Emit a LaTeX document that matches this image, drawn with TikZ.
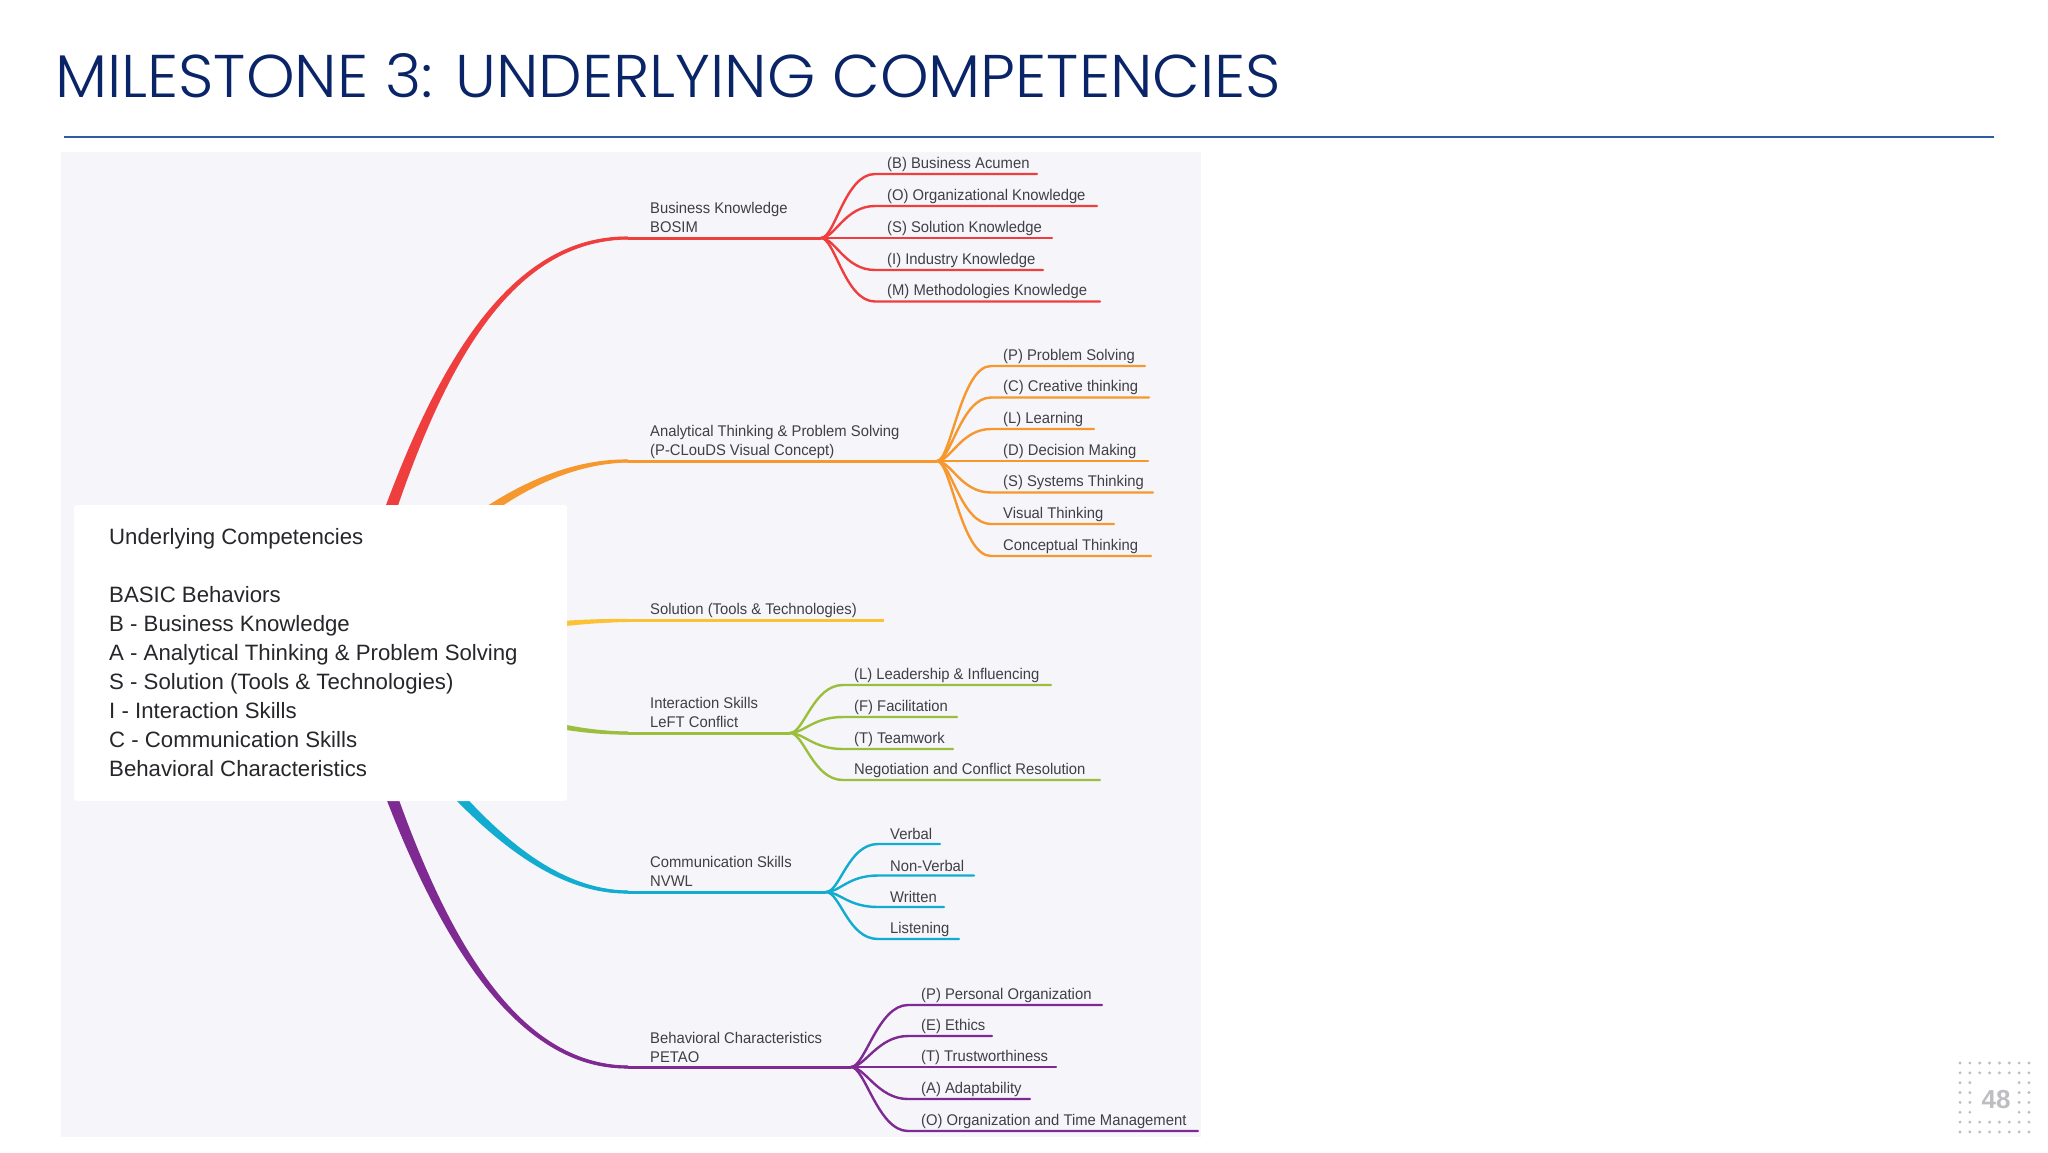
\documentclass[tikz,border=0pt]{standalone}
\usepackage{fontspec}
\usepackage{graphicx}
\setmainfont{Liberation Sans}
\newfontfamily\titlefont[UprightFont=* Light]{Poppins}
\newfontfamily\mapfont[FakeStretch=0.955]{Liberation Sans}
\usetikzlibrary{calc}
\definecolor{navy}{HTML}{0A2468}
\definecolor{rulecol}{HTML}{2F5C9E}
\definecolor{panel}{HTML}{F5F5FA}
\definecolor{ink}{HTML}{3F3F46}
\definecolor{boxink}{HTML}{26262B}
\definecolor{cR}{HTML}{EF3E3E}
\definecolor{cO}{HTML}{F6982E}
\definecolor{cY}{HTML}{FBC233}
\definecolor{cG}{HTML}{9BBF3C}
\definecolor{cB}{HTML}{12ACD0}
\definecolor{cP}{HTML}{7E2A92}
\definecolor{dotc}{HTML}{BDBDC2}
\tikzset{
  leaftext/.style={anchor=west,inner sep=0pt,text=ink,font=\mapfont\fontsize{15.5}{19}\selectfont},
  branchtext/.style={anchor=west,inner sep=0pt,text=ink,align=left,font=\mapfont\fontsize{15.5}{19}\selectfont},
  twig/.style={line width=2.4pt,line cap=round},
  stem/.style={line width=3pt},
  limb/.style={line width=2.6pt},
  pagedot/.style={circle,fill=dotc,inner sep=0pt,minimum size=3.2pt},
}
% tapered main branch: colour, c1x,c1y,c2x,c2y,endx,endy, starting at the root point
\newcommand{\taper}[7]{%
  \pgfmathsetmacro{\angl}{atan2(#3-653,#2-345)}%
  \pgfmathsetmacro{\nrx}{-sin(\angl)}%
  \pgfmathsetmacro{\nry}{cos(\angl)}%
  \fill[#1] (345+\nrx*7.5,653+\nry*7.5) .. controls (#2+\nrx*5.5,#3+\nry*5.5) and (#4,#5+2.8) .. (#6,#7+1.5)
    -- (#6,#7-1.5) .. controls (#4,#5-2.8) and (#2-\nrx*5.5,#3-\nry*5.5) .. (345-\nrx*7.5,653-\nry*7.5) -- cycle;
  \draw[limb,#1] (rootpt) .. controls (#2,#3) and (#4,#5) .. (#6,#7);
}
% leaf: name, hub, colour, curve end x, text x, line y, line end x, text
\newcommand{\leaf}[8]{%
  \coordinate (#1s) at (#4,#6);
  \coordinate (#1e) at (#7,#6);
  \draw[twig,#3] (#2) .. controls +(14,0) and +(-30,0) .. (#1s) -- (#1e);
  \node[leaftext] (#1) at (#5,#6-10) {#8};
}
\begin{document}
\begin{tikzpicture}[x=1pt,y=-1pt]
\useasboundingbox (0,0) rectangle (2048,1152);
\fill[white] (0,0) rectangle (2048,1152);
% title
\node[anchor=base west,inner sep=0pt,text=navy] (title) at (55,97)
  {\resizebox{1225pt}{44pt}{\titlefont MILESTONE 3: UNDERLYING COMPETENCIES}};
\coordinate (ruleL) at (64,137);
\coordinate (ruleR) at (1994,137);
\draw[rulecol,line width=2pt] (ruleL) -- (ruleR);
% panel
\fill[panel] (61,152) rectangle (1201,1137);
\coordinate (rootpt) at (345,653);
% branch ends
\coordinate (bR) at (628,238);
\coordinate (bO) at (628,461);
\coordinate (bY) at (628,620.5);
\coordinate (bG) at (628,733);
\coordinate (bB) at (628,892);
\coordinate (bP) at (628,1067);
\coordinate (hubR) at (821,238);
\coordinate (hubO) at (937,461);
\coordinate (endY) at (884,620.5);
\coordinate (hubG) at (790,733);
\coordinate (hubB) at (826,892);
\coordinate (hubP) at (851,1067);
% limbs
\taper{cR}{407}{440}{480}{238}{628}{238}
\taper{cO}{462}{500}{560}{461}{628}{461}
\taper{cY}{450}{640}{540}{620.5}{628}{620.5}
\taper{cG}{450}{690}{530}{733}{628}{733}
\taper{cB}{443}{790}{530}{892}{628}{892}
\taper{cP}{408}{870}{490}{1067}{628}{1067}
% stems
\draw[stem,cR] (bR) -- (hubR);
\draw[stem,cO] (bO) -- (hubO);
\draw[stem,cY] (bY) -- (endY);
\draw[stem,cG] (bG) -- (hubG);
\draw[stem,cB] (bB) -- (hubB);
\draw[stem,cP] (bP) -- (hubP);
% branch labels
\node[branchtext] (lR) at (650,217.5) {Business Knowledge\\[0pt]BOSIM};
\node[branchtext] (lO) at (650,441.5) {Analytical Thinking \& Problem Solving\\[0pt](P-CLouDS Visual Concept)};
\node[branchtext] (lY) at (650,610) {Solution (Tools \& Technologies)};
\node[branchtext] (lG) at (650,712) {Interaction Skills\\[0pt]LeFT Conflict};
\node[branchtext] (lB) at (650,871.5) {Communication Skills\\[0pt]NVWL};
\node[branchtext] (lP) at (650,1047.5) {Behavioral Characteristics\\[0pt]PETAO};
% red leaves
\leaf{r1}{hubR}{cR}{875}{887}{174}{1037}{(B) Business Acumen}
\leaf{r2}{hubR}{cR}{875}{887}{206}{1097}{(O) Organizational Knowledge}
\leaf{r3}{hubR}{cR}{875}{887}{238}{1052}{(S) Solution Knowledge}
\leaf{r4}{hubR}{cR}{875}{887}{270}{1043}{(I) Industry Knowledge}
\leaf{r5}{hubR}{cR}{875}{887}{301.5}{1100}{(M) Methodologies Knowledge}
% orange leaves
\leaf{o1}{hubO}{cO}{991}{1003}{366}{1145}{(P) Problem Solving}
\leaf{o2}{hubO}{cO}{991}{1003}{397.5}{1149}{(C) Creative thinking}
\leaf{o3}{hubO}{cO}{991}{1003}{429}{1094}{(L) Learning}
\leaf{o4}{hubO}{cO}{991}{1003}{461}{1148}{(D) Decision Making}
\leaf{o5}{hubO}{cO}{991}{1003}{492.5}{1153}{(S) Systems Thinking}
\leaf{o6}{hubO}{cO}{991}{1003}{524}{1114}{Visual Thinking}
\leaf{o7}{hubO}{cO}{991}{1003}{556}{1151}{Conceptual Thinking}
% green leaves
\leaf{g1}{hubG}{cG}{843}{854}{685}{1051}{(L) Leadership \& Influencing}
\leaf{g2}{hubG}{cG}{843}{854}{717}{957}{(F) Facilitation}
\leaf{g3}{hubG}{cG}{843}{854}{749}{953}{(T) Teamwork}
\leaf{g4}{hubG}{cG}{843}{854}{780}{1100}{Negotiation and Conflict Resolution}
% blue leaves
\leaf{b1}{hubB}{cB}{878}{890}{844}{940}{Verbal}
\leaf{b2}{hubB}{cB}{878}{890}{875.5}{974}{Non-Verbal}
\leaf{b3}{hubB}{cB}{878}{890}{907}{944}{Written}
\leaf{b4}{hubB}{cB}{878}{890}{939}{959}{Listening}
% purple leaves
\leaf{p1}{hubP}{cP}{908}{921}{1005}{1102}{(P) Personal Organization}
\leaf{p2}{hubP}{cP}{908}{921}{1036}{992}{(E) Ethics}
\leaf{p3}{hubP}{cP}{908}{921}{1067}{1056}{(T) Trustworthiness}
\leaf{p4}{hubP}{cP}{908}{921}{1099}{1030}{(A) Adaptability}
\leaf{p5}{hubP}{cP}{908}{921}{1131}{1198}{(O) Organization and Time Management}
% root box
\fill[white,rounded corners=3pt] (74,505) rectangle (567,801);
\node[anchor=north west,inner sep=0pt,text=boxink,align=left,font=\fontsize{22.2}{29}\selectfont] (rootbox) at (109,528.5)
 {Underlying Competencies\\ \\BASIC Behaviors\\B - Business Knowledge\\A - Analytical Thinking \& Problem Solving\\S - Solution (Tools \& Technologies)\\I - Interaction Skills\\C - Communication Skills\\Behavioral Characteristics};
% page number
\foreach \cx in {0,...,7}{\foreach \cy in {0,...,7}{%
  \pgfmathtruncatemacro{\inner}{(\cx>1)&&(\cx<6)&&(\cy>1)&&(\cy<6)}%
  \ifnum\inner=0 \node[pagedot] (d\cx\cy) at (1960+\cx*9.85,1063+\cy*9.85) {};\fi
}}
\node[inner sep=0pt,text=dotc,font=\fontsize{26}{26}\bfseries\selectfont] (pagenum) at (1996,1100) {48};
\end{tikzpicture}
\end{document}
